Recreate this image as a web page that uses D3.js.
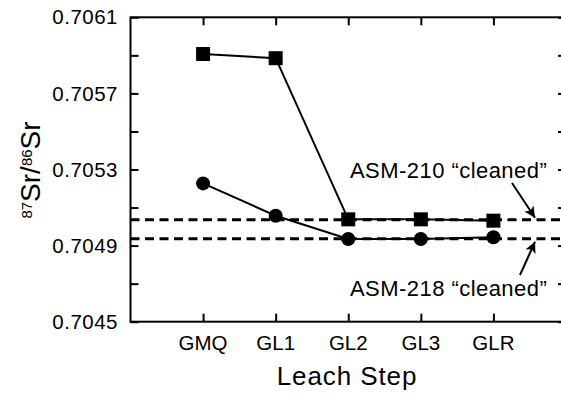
<!DOCTYPE html>
<html>
<head>
<meta charset="utf-8">
<script src="https://cdn.jsdelivr.net/npm/d3@7"></script>
<style>
  html, body { margin: 0; padding: 0; background: #fff; }
  svg { display: block; font-family: "Liberation Sans", Arial, sans-serif; }
</style>
</head>
<body>
<svg id="chart" width="561" height="394"></svg>
<script>
const categories = ["GMQ", "GL1", "GL2", "GL3", "GLR"];
const asm210 = [0.705907, 0.705885, 0.705038, 0.705038, 0.705031];
const asm218 = [0.705227, 0.705057, 0.704935, 0.704935, 0.704944];
const cleanedValues = [0.705036, 0.704936];
const cleanedLabels = ["ASM-210 \u201Ccleaned\u201D", "ASM-218 \u201Ccleaned\u201D"];
const yMajorTicks = [0.7045, 0.7049, 0.7053, 0.7057, 0.7061];
const yMinorTicks = [0.7047, 0.7051, 0.7055, 0.7059];

(function () {
const svg = d3.select("#chart");
const pLeft = 130.5, pRight = 566, pTop = 17.3, pBottom = 321.7;

const x = d3.scaleLinear().domain([0, 6]).range([pLeft, pRight]);
const y = d3.scaleLinear().domain([0.7045, 0.7061]).range([pBottom, pTop]);

const tickLen = 8;
const allY = yMajorTicks.concat(yMinorTicks);

const g = svg.append("g");
const axisStyle = sel => {
  sel.select(".domain").remove();
  sel.selectAll("line").attr("stroke", "#000").attr("stroke-width", 2);
};
g.append("g").attr("transform", `translate(${pLeft},0)`)
  .call(d3.axisRight(y).tickValues(allY).tickSize(tickLen).tickFormat(""))
  .call(axisStyle);
g.append("g").attr("transform", `translate(${pRight},0)`)
  .call(d3.axisLeft(y).tickValues(allY).tickSize(tickLen).tickFormat(""))
  .call(axisStyle);
g.append("g").attr("transform", `translate(0,${pBottom})`)
  .call(d3.axisTop(x).tickValues([1,2,3,4,5]).tickSize(tickLen).tickFormat(""))
  .call(axisStyle);
g.append("g").attr("transform", `translate(0,${pTop})`)
  .call(d3.axisBottom(x).tickValues([1,2,3,4,5]).tickSize(tickLen).tickFormat(""))
  .call(axisStyle);

svg.append("rect")
  .attr("x", pLeft).attr("y", pTop)
  .attr("width", pRight - pLeft).attr("height", pBottom - pTop)
  .attr("fill", "none").attr("stroke", "#000").attr("stroke-width", 2);

svg.append("g").selectAll("text").data(yMajorTicks).join("text")
  .attr("x", 118).attr("y", d => y(d))
  .attr("dy", "0.35em")
  .attr("text-anchor", "end")
  .attr("font-size", 20.5)
  .attr("letter-spacing", 0.5)
  .text(d => d.toFixed(4));

svg.append("g").selectAll("text").data(categories).join("text")
  .attr("x", (d, i) => x(i + 1)).attr("y", 350)
  .attr("text-anchor", "middle")
  .attr("font-size", 20.5)
  .text(d => d);

svg.append("text").attr("x", 347).attr("y", 385)
  .attr("text-anchor", "middle").attr("font-size", 26)
  .attr("letter-spacing", 0.9)
  .text("Leach Step");

const yt = svg.append("text")
  .attr("transform", "translate(40,170) rotate(-90)")
  .attr("text-anchor", "middle").attr("font-size", 28);
yt.append("tspan").attr("font-size", 15).attr("baseline-shift", "55%").text("87");
yt.append("tspan").text("Sr/");
yt.append("tspan").attr("font-size", 15).attr("baseline-shift", "55%").text("86");
yt.append("tspan").text("Sr");

svg.append("g").selectAll("line").data(cleanedValues).join("line")
  .attr("x1", pLeft).attr("x2", pRight)
  .attr("y1", d => y(d)).attr("y2", d => y(d))
  .attr("stroke", "#000").attr("stroke-width", 3)
  .attr("stroke-dasharray", "9,5.5");

const line = d3.line().x((d, i) => x(i + 1)).y(d => y(d));
[asm210, asm218].forEach(s => {
  svg.append("path").datum(s).attr("d", line)
    .attr("fill", "none").attr("stroke", "#000").attr("stroke-width", 2);
});

const sq = 14;
svg.append("g").selectAll("rect").data(asm210).join("rect")
  .attr("x", (d, i) => x(i + 1) - sq / 2).attr("y", d => y(d) - sq / 2)
  .attr("width", sq).attr("height", sq).attr("fill", "#000");
svg.append("g").selectAll("circle").data(asm218).join("circle")
  .attr("cx", (d, i) => x(i + 1)).attr("cy", d => y(d)).attr("r", 7)
  .attr("fill", "#000");

svg.append("defs").append("marker")
  .attr("id", "ah").attr("viewBox", "0 0 10 10")
  .attr("refX", 10).attr("refY", 5)
  .attr("markerWidth", 11).attr("markerHeight", 11)
  .attr("markerUnits", "userSpaceOnUse")
  .attr("orient", "auto")
  .append("path").attr("d", "M0,0 L10,5 L0,10 L2.5,5 Z").attr("fill", "#000");

svg.append("text").attr("x", 350).attr("y", 178).attr("font-size", 22)
  .attr("letter-spacing", 0.45)
  .text(cleanedLabels[0]);
svg.append("text").attr("x", 350).attr("y", 296).attr("font-size", 22)
  .attr("letter-spacing", 0.45)
  .text(cleanedLabels[1]);

svg.append("line")
  .attr("x1", 512).attr("y1", 183).attr("x2", 535).attr("y2", y(cleanedValues[0]) - 2)
  .attr("stroke", "#000").attr("stroke-width", 2).attr("marker-end", "url(#ah)");
svg.append("line")
  .attr("x1", 520).attr("y1", 275).attr("x2", 535).attr("y2", y(cleanedValues[1]) + 3)
  .attr("stroke", "#000").attr("stroke-width", 2).attr("marker-end", "url(#ah)");
})();
</script>
</body>
</html>
